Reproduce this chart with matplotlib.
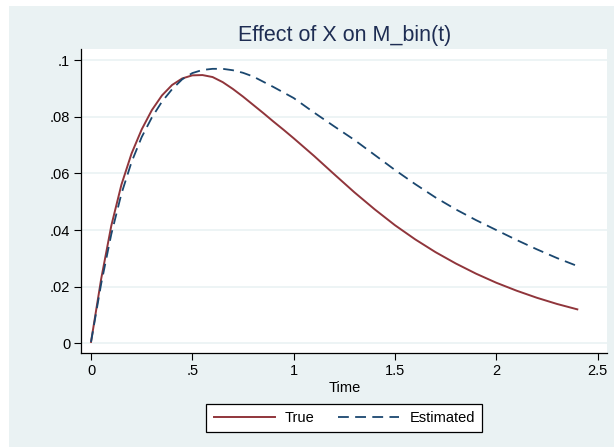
import matplotlib
matplotlib.use("Agg")
import matplotlib.pyplot as plt
from matplotlib.patches import Rectangle

# values
time_true = [0, 0.05, 0.1, 0.15, 0.2, 0.25, 0.3, 0.35, 0.4, 0.45, 0.5, 0.55, 0.6,
             0.65, 0.7, 0.75, 0.8, 0.85, 0.9, 0.95, 1.0, 1.1, 1.2, 1.3, 1.4, 1.5,
             1.6, 1.7, 1.8, 1.9, 2.0, 2.1, 2.2, 2.3, 2.4]
effect_true = [0.0005, 0.0227, 0.0415, 0.0560, 0.0670, 0.0755, 0.0823, 0.0875,
               0.0912, 0.0935, 0.0946, 0.0947, 0.0940, 0.0922, 0.0898, 0.0871,
               0.0842, 0.0813, 0.0783, 0.0754, 0.0724, 0.0662, 0.0597, 0.0533,
               0.0473, 0.0417, 0.0367, 0.0322, 0.0282, 0.0246, 0.0214, 0.0186,
               0.0161, 0.0139, 0.0120]

time_est = [0, 0.05, 0.1, 0.15, 0.2, 0.25, 0.3, 0.35, 0.4, 0.45, 0.5, 0.55, 0.6,
            0.65, 0.7, 0.75, 0.8, 0.9, 1.0, 1.1, 1.2, 1.3, 1.4, 1.5, 1.6, 1.7,
            1.8, 1.9, 2.0, 2.1, 2.2, 2.3, 2.4]
effect_est = [0.0005, 0.0210, 0.0385, 0.0528, 0.0640, 0.0728, 0.0797, 0.0853,
              0.0897, 0.0932, 0.0954, 0.0965, 0.0969, 0.0969, 0.0964, 0.0955,
              0.0942, 0.0905, 0.0866, 0.0815, 0.0766, 0.0718, 0.0665, 0.0612,
              0.0562, 0.0515, 0.0473, 0.0435, 0.0400, 0.0365, 0.0332, 0.0301,
              0.0273]

xticks = [0, 0.5, 1, 1.5, 2, 2.5]
xticklabels = ["0", ".5", "1", "1.5", "2", "2.5"]
yticks = [0, 0.02, 0.04, 0.06, 0.08, 0.1]
yticklabels = ["0", ".02", ".04", ".06", ".08", ".1"]

plt.rcParams["font.family"] = ["Liberation Sans", "DejaVu Sans"]

W, H = 614, 448
fig = plt.figure(figsize=(W / 100, H / 100), dpi=100, facecolor="white")

# stata-style graph region
bg = "#EAF2F3"
fig.patches.append(Rectangle((8.5 / W, 1 - 447 / H), 1 - 8.5 / W, (447 - 6) / H,
                             transform=fig.transFigure, facecolor=bg,
                             edgecolor="none", zorder=-10))

ax = fig.add_axes([81.3 / W, 1 - 352.7 / H, (607.3 - 81.3) / W, (352.7 - 49) / H])
ax.set_facecolor("white")

ax.plot(time_true, effect_true, color="#90353B", lw=1.4, label="True", zorder=3)
ax.plot(time_est, effect_est, color="#1A476F", lw=1.3, dashes=(6, 3.5),
        label="Estimated", zorder=3)

ax.set_xlim(-0.048, 2.548)
ax.set_ylim(-0.0033, 0.1039)
ax.set_xticks(xticks)
ax.set_xticklabels(xticklabels)
ax.set_yticks(yticks)
ax.set_yticklabels(yticklabels)
ax.grid(True, axis="y", color=bg, lw=1.2)
ax.set_axisbelow(True)

for side in ["top", "right"]:
    ax.spines[side].set_visible(False)
for side in ["left", "bottom"]:
    ax.spines[side].set_color("black")
    ax.spines[side].set_linewidth(0.9)

ax.tick_params(axis="both", direction="out", length=5, width=0.8, color="black",
               labelsize=10.5, labelcolor="black", pad=3)

ax.set_xlabel("Time", fontsize=10.5, labelpad=2)
ax.set_title("Effect of X on M_bin(t)", fontsize=15.5, color="#1E2D53", pad=6)

leg = fig.legend(loc="center", bbox_to_anchor=(344.4 / W, 1 - 418 / H), ncol=2,
                 fontsize=10.5, frameon=True, fancybox=False, framealpha=1,
                 handlelength=4.2, handletextpad=0.7, columnspacing=1.6,
                 borderpad=0.5)
leg.get_frame().set_edgecolor("black")
leg.get_frame().set_linewidth(0.9)
leg.get_frame().set_facecolor("white")

fig.savefig("out.png", dpi=100, facecolor="white")
